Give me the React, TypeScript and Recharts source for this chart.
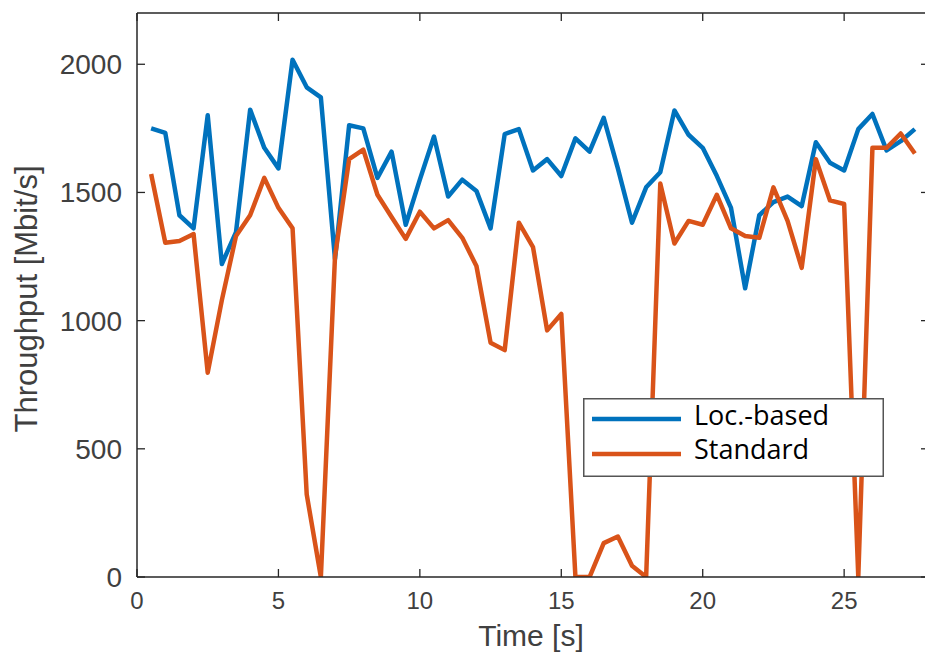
import React from "react";
import { Legend, Line, LineChart, XAxis, YAxis } from "recharts";

// sample times [s], one sample every 0.5 s
const times = [
  0.5, 1, 1.5, 2, 2.5, 3, 3.5, 4, 4.5, 5, 5.5, 6, 6.5, 7, 7.5, 8, 8.5, 9, 9.5,
  10, 10.5, 11, 11.5, 12, 12.5, 13, 13.5, 14, 14.5, 15, 15.5, 16, 16.5, 17,
  17.5, 18, 18.5, 19, 19.5, 20, 20.5, 21, 21.5, 22, 22.5, 23, 23.5, 24, 24.5,
  25, 25.5, 26, 26.5, 27, 27.5,
];

// throughput [Mbit/s], location-based beam management
const locBased = [
  1750, 1732, 1411, 1360, 1801, 1221, 1345, 1823, 1674, 1594, 2018, 1910, 1871,
  1240, 1762, 1750, 1557, 1659, 1374, 1550, 1718, 1484, 1550, 1506, 1360, 1728,
  1747, 1586, 1630, 1564, 1711, 1659, 1791, 1594, 1382, 1520, 1579, 1820, 1725,
  1674, 1564, 1440, 1126, 1411, 1462, 1484, 1447, 1696, 1616, 1586, 1747, 1806,
  1664, 1700, 1747,
];

// throughput [Mbit/s], standard procedure
const standard = [
  1572, 1304, 1311, 1338, 797, 1080, 1330, 1411, 1557, 1440, 1360, 322, 0, 1250,
  1630, 1667, 1491, 1404, 1319, 1425, 1360, 1392, 1323, 1213, 914, 885, 1382,
  1287, 962, 1026, 0, 0, 132, 158, 44, 0, 1535, 1301, 1389, 1374, 1491, 1360,
  1330, 1323, 1520, 1389, 1206, 1630, 1469, 1455, 0, 1674, 1674, 1730, 1652,
];

const xTicks = [0, 5, 10, 15, 20, 25];
const yTicks = [0, 500, 1000, 1500, 2000];

const BLUE = "#0072BD";
const ORANGE = "#D95319";
const AXIS = "#262626";
const TICK_TEXT = "#404040";
const FONT = '"Liberation Sans", Arial, sans-serif';
const TICK_LEN = 8;
const X_GAP = 29;
const Y_GAP = 15;

const data = times.map((t, i) => ({
  t,
  loc: locBased[i],
  std: standard[i],
}));

// MATLAB-style ticks point into the plot box, so each tick draws its own mark
function BottomTick(props: any): React.ReactElement {
  const { x, y, payload } = props;
  const axisY = Number(y) - X_GAP;
  return (
    <g>
      <path d={`M${x},${axisY}V${axisY - TICK_LEN}`} stroke={AXIS} strokeWidth={1.3} fill="none" />
      <text
        x={x}
        y={y}
        dy={3}
        textAnchor="middle"
        fontSize={24}
        fontFamily={FONT}
        fill={TICK_TEXT}
      >
        {payload.value}
      </text>
    </g>
  );
}

function TopTick(props: any): React.ReactElement {
  const { x, y } = props;
  return (
    <path d={`M${x},${y}V${Number(y) + TICK_LEN}`} stroke={AXIS} strokeWidth={1.3} fill="none" />
  );
}

function LeftTick(props: any): React.ReactElement {
  const { x, y, payload } = props;
  const axisX = Number(x) + Y_GAP;
  return (
    <g>
      <path d={`M${axisX},${y}H${axisX + TICK_LEN}`} stroke={AXIS} strokeWidth={1.3} fill="none" />
      <text
        x={x}
        y={y}
        dy={10}
        textAnchor="end"
        fontSize={28}
        fontFamily={FONT}
        fill={TICK_TEXT}
      >
        {payload.value}
      </text>
    </g>
  );
}

function RightTick(props: any): React.ReactElement {
  const { x, y } = props;
  return (
    <path d={`M${Number(x) - TICK_LEN},${y}H${x}`} stroke={AXIS} strokeWidth={1.3} fill="none" />
  );
}

function LegendBox(props: any): React.ReactElement {
  const payload = props.payload ?? [];
  return (
    <svg width={301} height={79} style={{ display: "block", overflow: "visible" }}>
      <rect
        x={0.75}
        y={0.75}
        width={299.5}
        height={77.5}
        fill="#fff"
        stroke="#555"
        strokeWidth={1.5}
      />
      {payload.map((p: any, i: number) => (
        <g key={p.value}>
          <line
            x1={9}
            x2={98}
            y1={21 + i * 35}
            y2={21 + i * 35}
            stroke={p.color}
            strokeWidth={4.5}
          />
          <text
            x={111}
            y={27 + i * 34}
            fontSize={27}
            fontFamily='"Open Sans", sans-serif'
            fill="#000"
          >
            {p.value}
          </text>
        </g>
      ))}
    </svg>
  );
}

export default function App(): React.ReactElement {
  const axisLine = { stroke: AXIS, strokeWidth: 1.5 };
  return (
    <div
      style={{
        position: "absolute",
        left: 0,
        top: 0,
        width: 925,
        height: 669,
        overflow: "hidden",
        background: "#fff",
      }}
    >
      <LineChart
        width={935}
        height={669}
        data={data}
        margin={{ top: 12, right: 5, bottom: 0, left: 0 }}
      >
        <XAxis
          dataKey="t"
          type="number"
          domain={[0, 28]}
          ticks={xTicks}
          interval={0}
          allowDataOverflow
          height={92}
          tickSize={0}
          tickMargin={X_GAP}
          axisLine={axisLine}
          tickLine={false}
          tick={<BottomTick />}
          label={{
            content: () => (
              <text
                x={531}
                y={646}
                textAnchor="middle"
                fontSize={30}
                fontFamily={FONT}
                fill={TICK_TEXT}
              >
                Time [s]
              </text>
            ),
          }}
        />
        <XAxis
          xAxisId="top"
          orientation="top"
          dataKey="t"
          type="number"
          domain={[0, 28]}
          ticks={xTicks}
          interval={0}
          allowDataOverflow
          height={1}
          tickSize={0}
          tickMargin={0}
          axisLine={axisLine}
          tickLine={false}
          tick={<TopTick />}
        />
        <YAxis
          type="number"
          domain={[0, 2200]}
          ticks={yTicks}
          interval={0}
          allowDataOverflow
          width={137}
          tickSize={0}
          tickMargin={Y_GAP}
          axisLine={axisLine}
          tickLine={false}
          tick={<LeftTick />}
          label={{
            content: () => (
              <text
                x={37}
                y={299}
                transform="rotate(-90 37 299)"
                textAnchor="middle"
                fontSize={31}
                fontFamily={FONT}
                fill={TICK_TEXT}
              >
                Throughput [Mbit/s]
              </text>
            ),
          }}
        />
        <YAxis
          yAxisId="right"
          orientation="right"
          type="number"
          domain={[0, 2200]}
          ticks={yTicks}
          interval={0}
          allowDataOverflow
          width={1}
          tickSize={0}
          tickMargin={0}
          axisLine={axisLine}
          tickLine={false}
          tick={<RightTick />}
        />
        <Legend
          layout="horizontal"
          verticalAlign="middle"
          align="center"
          content={LegendBox}
          wrapperStyle={{
            position: "absolute",
            left: 583,
            top: 398,
            width: 301,
            height: 79,
          }}
        />
        <Line
          name="Loc.-based"
          dataKey="loc"
          stroke={BLUE}
          strokeWidth={4.5}
          strokeLinejoin="round"
          dot={false}
          activeDot={false}
          isAnimationActive={false}
        />
        <Line
          name="Standard"
          dataKey="std"
          stroke={ORANGE}
          strokeWidth={4.5}
          strokeLinejoin="round"
          dot={false}
          activeDot={false}
          isAnimationActive={false}
        />
      </LineChart>
    </div>
  );
}
